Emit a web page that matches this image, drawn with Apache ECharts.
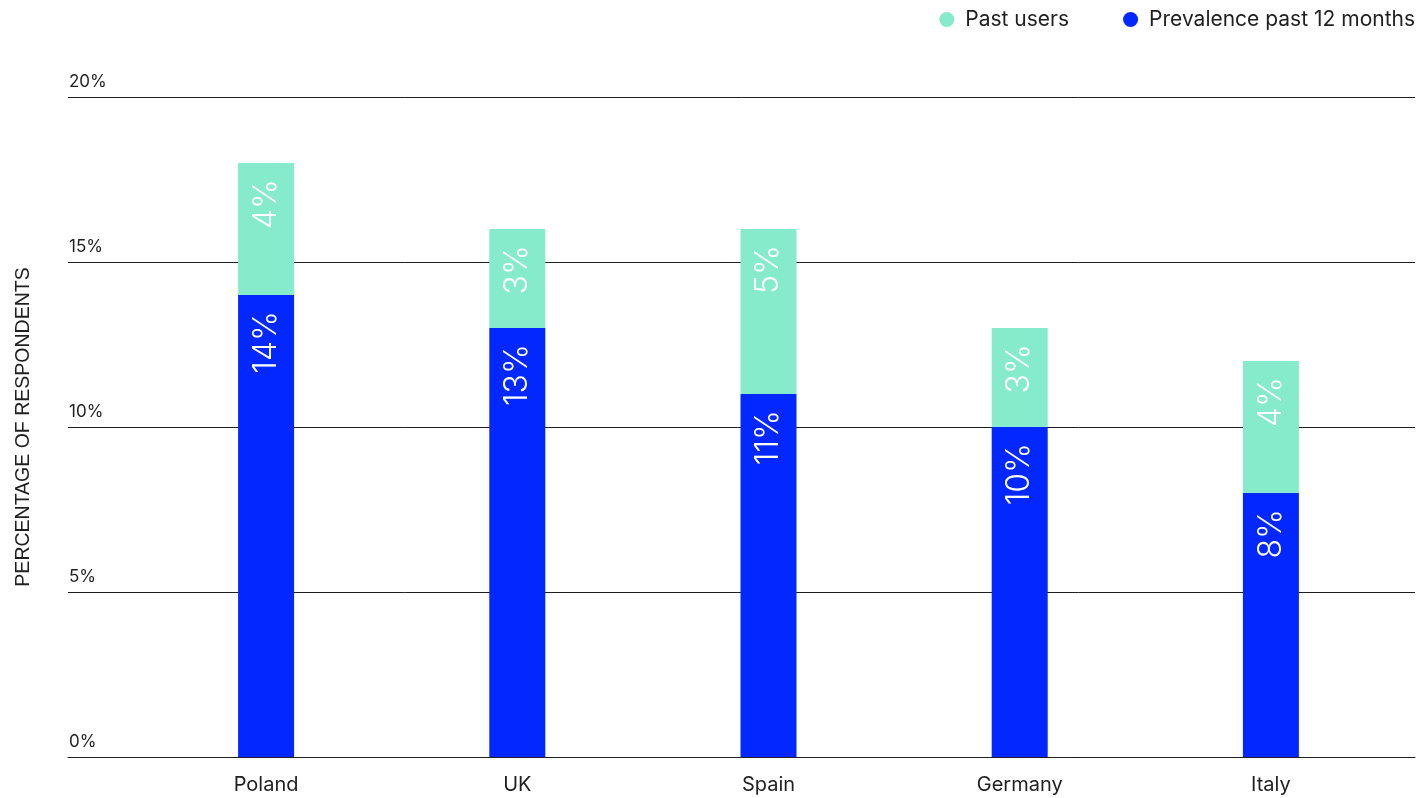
<!DOCTYPE html>
<html>
<head>
<meta charset="utf-8">
<title>Prevalence by country</title>
<script src="https://cdn.jsdelivr.net/npm/echarts@6/dist/echarts.min.js"></script>
<style>
  html, body { margin: 0; padding: 0; background: #ffffff; }
  #chart { width: 1418px; height: 798px; }
</style>
</head>
<body>
<div id="chart"></div>
<script>
// Countries and survey shares (percent of respondents)
const countries = ['Poland', 'UK', 'Spain', 'Germany', 'Italy'];
const prevalence12m = [14, 13, 11, 10, 8];
const pastUsers = [4, 3, 5, 3, 4];
const yTicks = { min: 0, max: 20, interval: 5 };

const FONT = 'Inter, "Noto Sans", sans-serif';
const BLUE = '#0328FF';
const GREEN = '#85EBCB';
const INK = '#1f1f1f';

const chart = echarts.init(document.getElementById('chart'), null, { renderer: 'canvas' });

const barLabel = {
  show: true,
  position: 'insideTop',
  rotate: 90,
  align: 'right',
  verticalAlign: 'middle',
  distance: 16,
  color: '#ffffff',
  fontFamily: FONT,
  fontSize: 32,
  fontWeight: 300,
  formatter: p => p.value + '%'
};

chart.setOption({
  animation: false,
  backgroundColor: '#ffffff',
  textStyle: { fontFamily: FONT, color: INK },
  legend: {
    top: 9,
    right: 3,
    padding: 0,
    icon: 'circle',
    itemWidth: 15,
    itemHeight: 15,
    itemGap: 54,
    data: ['Past users', 'Prevalence past 12 months'],
    textStyle: { fontFamily: FONT, fontSize: 21, color: INK, padding: [0, 0, 0, 6] }
  },
  grid: [
    // full-width frame carrying the gridlines and baseline
    { left: 68, right: 3, top: 97, bottom: 41 },
    // bar area
    { left: 140.5, right: 21.5, top: 97, bottom: 41 }
  ],
  xAxis: [
    {
      gridIndex: 0,
      type: 'value',
      min: 0,
      max: 1,
      axisLine: { show: true, lineStyle: { color: INK, width: 1 } },
      axisTick: { show: false },
      axisLabel: { show: false },
      splitLine: { show: false }
    },
    {
      gridIndex: 1,
      type: 'category',
      data: countries,
      axisLine: { show: false },
      axisTick: { show: false },
      axisLabel: { margin: 18, fontFamily: FONT, fontSize: 20, color: INK }
    }
  ],
  yAxis: [
    {
      gridIndex: 0,
      type: 'value',
      min: yTicks.min,
      max: yTicks.max,
      interval: yTicks.interval,
      name: 'PERCENTAGE OF RESPONDENTS',
      nameLocation: 'middle',
      nameGap: 34,
      nameTextStyle: { fontFamily: '"Liberation Sans", Arial, sans-serif', fontSize: 19.5, color: INK },
      axisLine: { show: false },
      axisTick: { show: false },
      axisLabel: {
        inside: true,
        margin: 0,
        align: 'left',
        verticalAlign: 'bottom',
        padding: [0, 0, 7, 1],
        fontFamily: FONT,
        fontSize: 17,
        color: INK,
        formatter: '{value}%'
      },
      splitLine: { show: true, lineStyle: { color: INK, width: 1 } }
    },
    {
      gridIndex: 1,
      type: 'value',
      min: yTicks.min,
      max: yTicks.max,
      interval: yTicks.interval,
      show: false,
      splitLine: { show: false }
    }
  ],
  series: [
    {
      name: 'Prevalence past 12 months',
      type: 'bar',
      xAxisIndex: 1,
      yAxisIndex: 1,
      stack: 'total',
      barWidth: 56,
      itemStyle: { color: BLUE },
      label: barLabel,
      data: prevalence12m,
      z: 3
    },
    {
      name: 'Past users',
      type: 'bar',
      xAxisIndex: 1,
      yAxisIndex: 1,
      stack: 'total',
      barWidth: 56,
      itemStyle: { color: GREEN },
      label: barLabel,
      data: pastUsers,
      z: 3
    }
  ]
});
</script>
</body>
</html>
